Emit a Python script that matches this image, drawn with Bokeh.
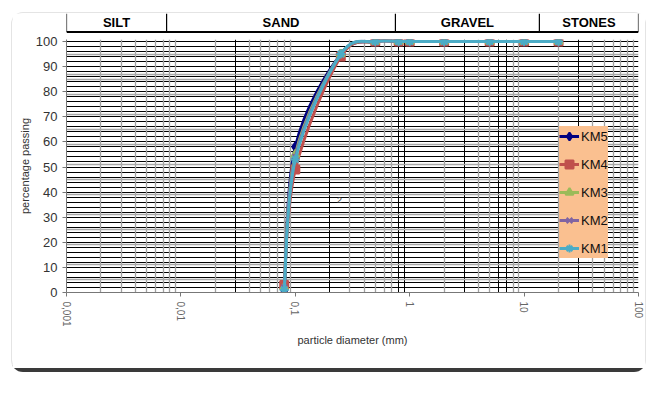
import math
from bokeh.plotting import figure
from bokeh.models import (FixedTicker, Grid, Legend, LegendItem, Range1d,
                          CustomJSTickFormatter, ColumnDataSource)
from bokeh.layouts import column
from bokeh.core.properties import value
from bokeh.embed import file_html
from bokeh.resources import INLINE

# ---------------- data ----------------
diameters = [0.08, 0.1, 0.25, 0.5, 0.8, 1, 2, 5, 10, 20]
km5 = [0, 58, 95, 100, 100, 100, 100, 100, 100, 100]
km4 = [3, 49, 94, 100, 100, 100, 100, 100, 100, 100]
km3 = [2, 55, 95, 100, 100, 100, 100, 100, 100, 100]
km2 = [2, 54, 95, 100, 100, 100, 100, 100, 100, 100]
km1 = [1, 53, 95, 100, 100, 100, 100, 100, 100, 100]
series_names = ["KM5", "KM4", "KM3", "KM2", "KM1"]

x_ticks = [0.001, 0.01, 0.1, 1, 10, 100]
x_tick_labels = ["0,001", "0,01", "0,1", "1", "10", "100"]
y_ticks = list(range(0, 101, 10))

zone_edges = [0.001, 0.0075, 0.75, 13.6, 100]
zone_names = ["SILT", "SAND", "GRAVEL", "STONES"]

note_x = [0.243]
note_y = [37]
note_text = ["2"]

# ---------------- styles ----------------
NARROW = "Liberation Sans Narrow, Arial Narrow, Liberation Sans"
SANS = "Liberation Sans, Arial"
colors = ["#000080", "#C0504D", "#9BBB59", "#8064A2", "#4BACC6"]
markers = ["diamond", "square", "triangle", "x", "asterisk"]
marker_sizes = [9, 8, 8, 8, 9]
series_values = [km5, km4, km3, km2, km1]


def smooth_segments(xs, ys):
    """Excel-like smoothed line: cubic Bezier segments through the data points."""
    u = [math.log10(x) for x in xs]
    n = len(u)
    out = dict(x0=[], y0=[], x1=[], y1=[], cx0=[], cy0=[], cx1=[], cy1=[])
    for i in range(n - 1):
        a = max(i - 1, 0)
        b = min(i + 2, n - 1)
        c1u = u[i] + (u[i + 1] - u[a]) / 6.0
        c1y = ys[i] + (ys[i + 1] - ys[a]) / 6.0
        c2u = u[i + 1] - (u[b] - u[i]) / 6.0
        c2y = ys[i + 1] - (ys[b] - ys[i]) / 6.0
        out["x0"].append(xs[i]); out["y0"].append(ys[i])
        out["x1"].append(xs[i + 1]); out["y1"].append(ys[i + 1])
        out["cx0"].append(10 ** c1u); out["cy0"].append(c1y)
        out["cx1"].append(10 ** c2u); out["cy1"].append(c2y)
    return out


# ---------------- main figure ----------------
p = figure(width=633, height=335, x_axis_type="log",
           x_range=Range1d(0.001, 100), y_range=Range1d(0, 100.8),
           output_backend="svg", toolbar_location=None,
           min_border_left=54, min_border_right=7, min_border_top=6,
           min_border_bottom=76, background_fill_color="white",
           border_fill_color="white", outline_line_color=None)

# grids
decades = [0.001, 0.01, 0.1, 1, 10]
black_v = [0.03, 0.2, 0.8, 0.9, 3, 6, 7, 30]
gray_v = []
for d in decades:
    for k in range(2, 10):
        v = round(k * d, 6)
        if v not in black_v:
            gray_v.append(v)
black_h = list(range(0, 101, 2))
gray_h = [95, 87, 85, 79, 71, 65, 59, 51, 45, 39, 31, 25, 19, 11, 5]

p.xgrid.ticker = FixedTicker(ticks=black_v)
p.xgrid.grid_line_color = "black"
p.xgrid.grid_line_width = 1
p.ygrid.ticker = FixedTicker(ticks=black_h)
p.ygrid.grid_line_color = "black"
p.ygrid.grid_line_width = 1
p.add_layout(Grid(dimension=0, ticker=FixedTicker(ticks=gray_v),
                  grid_line_color="#a0a0a0", grid_line_width=1.3))
p.add_layout(Grid(dimension=1, ticker=FixedTicker(ticks=gray_h),
                  grid_line_color="#a8a8a8", grid_line_width=1.3))

# axes
p.yaxis.ticker = FixedTicker(ticks=y_ticks)
p.yaxis.minor_tick_line_color = None
p.yaxis.major_tick_out = 4
p.yaxis.major_tick_in = 0
p.yaxis.major_label_standoff = 5
p.yaxis.major_label_text_font = NARROW
p.yaxis.major_label_text_font_size = "13px"
p.yaxis.major_label_text_color = "#333333"
p.yaxis.axis_line_color = "#777777"
p.yaxis.major_tick_line_color = "#777777"
p.yaxis.axis_label = "percentage passing"
p.yaxis.axis_label_text_font = SANS
p.yaxis.axis_label_text_font_style = "normal"
p.yaxis.axis_label_text_font_size = "11px"
p.yaxis.axis_label_text_color = "#333333"
p.yaxis.axis_label_standoff = 2

p.xaxis.ticker = FixedTicker(ticks=x_ticks)
p.xaxis.formatter = CustomJSTickFormatter(
    args=dict(tvals=x_ticks, tlabels=x_tick_labels),
    code="""
    for (let i = 0; i < tvals.length; i++) {
      if (Math.abs(Math.log10(tvals[i]) - Math.log10(tick)) < 1e-6) return tlabels[i];
    }
    return "";
    """)
p.xaxis.major_label_orientation = -math.pi / 2
p.xaxis.minor_tick_line_color = None
p.xaxis.major_tick_out = 4
p.xaxis.major_tick_in = 0
p.xaxis.major_label_standoff = 5
p.xaxis.major_label_text_font = SANS
p.xaxis.major_label_text_font_size = "10px"
p.xaxis.major_label_text_color = "#666666"
p.xaxis.axis_line_color = "#777777"
p.xaxis.major_tick_line_color = "#777777"
p.xaxis.axis_label = "particle diameter (mm)"
p.xaxis.axis_label_text_font = NARROW
p.xaxis.axis_label_text_font_style = "normal"
p.xaxis.axis_label_text_font_size = "11px"
p.xaxis.axis_label_text_color = "#333333"
p.xaxis.axis_label_standoff = 4

# series
items = []
for name, vals, col, mk, ms in zip(series_names, series_values, colors, markers, marker_sizes):
    seg = ColumnDataSource(smooth_segments(diameters, vals))
    r_line = p.bezier(x0="x0", y0="y0", x1="x1", y1="y1", cx0="cx0", cy0="cy0",
                      cx1="cx1", cy1="cy1", source=seg, line_color=col, line_width=3)
    r_pts = p.scatter(x=diameters, y=vals, marker=mk, size=ms, fill_color=col,
                      line_color=col, line_width=2)
    items.append(LegendItem(label=name, renderers=[r_line, r_pts]))

legend = Legend(items=items, location=(493, 34), orientation="vertical",
                background_fill_color="#FAC090", background_fill_alpha=1.0,
                border_line_color=None, padding=4, spacing=8, margin=0,
                glyph_height=20, glyph_width=20, label_standoff=2,
                label_text_font=NARROW, label_text_font_size="13px",
                label_text_color="#111111", label_height=20, label_width=20)
p.add_layout(legend)

p.text(x=note_x, y=note_y, text=note_text, text_font_size="9px",
       text_color="#333333", text_align="center", text_baseline="middle",
       text_font=value(SANS))

# ---------------- header (soil zones) ----------------
h = figure(width=633, height=20, x_axis_type="log", x_range=p.x_range,
           y_range=Range1d(0, 1), output_backend="svg", toolbar_location=None,
           x_axis_location=None, y_axis_location=None,
           min_border_left=54, min_border_right=7, min_border_top=0,
           min_border_bottom=0, outline_line_color=None,
           background_fill_color="white", border_fill_color="white")
h.grid.visible = False
h.segment(x0=zone_edges, y0=[0.075] * len(zone_edges), x1=zone_edges,
          y1=[1.0] * len(zone_edges), line_color="black", line_width=1.2)
h.segment(x0=[zone_edges[0]], y0=[0.075], x1=[zone_edges[-1]], y1=[0.075],
          line_color="black", line_width=2)
zone_centers = [10 ** ((math.log10(a) + math.log10(b)) / 2)
                for a, b in zip(zone_edges[:-1], zone_edges[1:])]
h.text(x=zone_centers, y=[0.16] * len(zone_centers), text=zone_names,
       text_align="center", text_baseline="bottom", text_font=value(NARROW),
       text_font_style="bold", text_font_size="13px", text_color="black")

layout = column(h, p, margin=(12, 0, 0, 11),
                styles={"border": "1px solid #e4e4e4",
                        "border-bottom": "4px solid #3a3a3a",
                        "border-radius": "12px"})

open("out.html", "w").write(file_html(layout, INLINE))
